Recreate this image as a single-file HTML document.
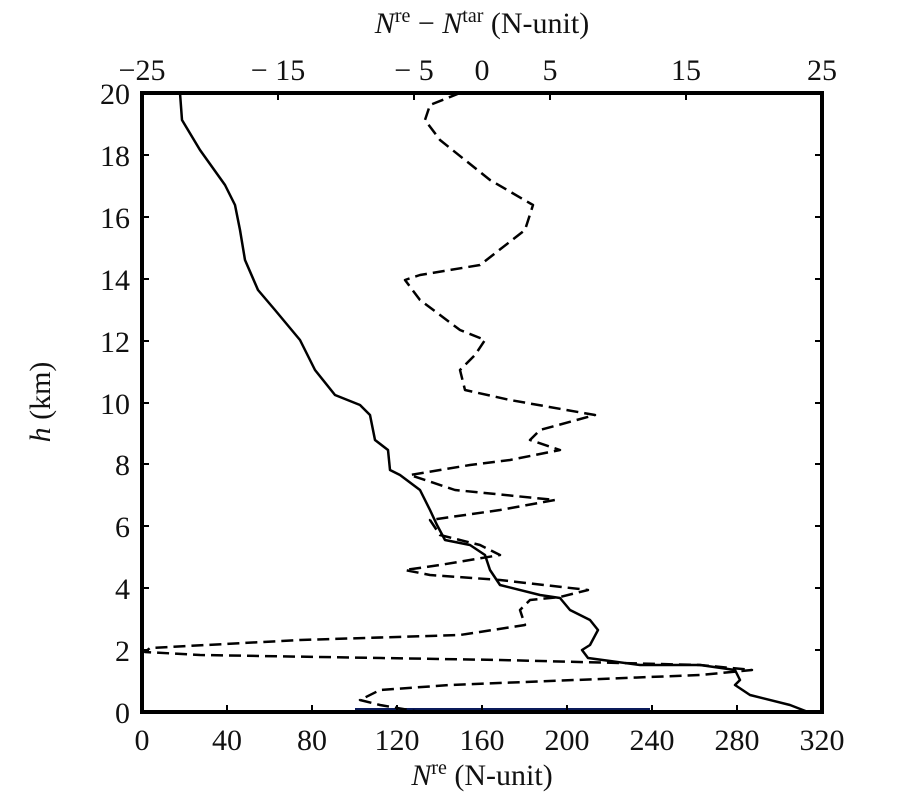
<!DOCTYPE html>
<html><head><style>body{margin:0;background:#fff}svg{display:block}text{font-family:"Liberation Serif",serif;fill:#111}</style></head><body>
<svg width="905" height="803" viewBox="0 0 905 803">
<g font-size="30">
<text x="482" y="33" text-anchor="middle"><tspan font-style="italic">N</tspan><tspan font-size="20" dy="-11">re</tspan><tspan dy="11"> − </tspan><tspan font-style="italic">N</tspan><tspan font-size="20" dy="-11">tar</tspan><tspan dy="11"> (N-unit)</tspan></text>
<text x="142" y="80" text-anchor="middle">−25</text>
<text x="278" y="80" text-anchor="middle">− 15</text>
<text x="414" y="80" text-anchor="middle">− 5</text>
<text x="482" y="80" text-anchor="middle">0</text>
<text x="550" y="80" text-anchor="middle">5</text>
<text x="686" y="80" text-anchor="middle">15</text>
<text x="822" y="80" text-anchor="middle">25</text>
<g text-anchor="end">
<text x="130" y="104">20</text><text x="130" y="166">18</text><text x="130" y="228">16</text><text x="130" y="290">14</text><text x="130" y="352">12</text><text x="130" y="414">10</text><text x="130" y="475">8</text><text x="130" y="537">6</text><text x="130" y="599">4</text><text x="130" y="661">2</text><text x="130" y="723">0</text>
</g>
<g text-anchor="middle">
<text x="142" y="750">0</text><text x="227" y="750">40</text><text x="312" y="750">80</text><text x="397" y="750">120</text><text x="482" y="750">160</text><text x="567" y="750">200</text><text x="652" y="750">240</text><text x="737" y="750">280</text><text x="822" y="750">320</text>
</g>
<text x="482" y="785" text-anchor="middle"><tspan font-style="italic">N</tspan><tspan font-size="20" dy="-11">re</tspan><tspan dy="11"> (N-unit)</tspan></text>
<text transform="translate(50,402) rotate(-90)" text-anchor="middle"><tspan font-style="italic">h</tspan> (km)</text>
</g>
<line x1="355" y1="710" x2="650" y2="710" stroke="#0a1a5a" stroke-width="4"/>
<g stroke="#000" stroke-width="2">
<path d="M227 712v-7M312 712v-7M397 712v-7M482 712v-7M567 712v-7M652 712v-7M737 712v-7M278 93v7M414 93v7M550 93v7M686 93v7M142 650h7M142 588h7M142 526h7M142 464h7M142 403h7M142 341h7M142 279h7M142 217h7M142 155h7M822 650h-7M822 588h-7M822 526h-7M822 464h-7M822 403h-7M822 341h-7M822 279h-7M822 217h-7M822 155h-7"/>
</g>
<path fill="none" stroke="#000" stroke-width="2.5" stroke-linejoin="round" d="M180 93L182 120L200 150L225 185L235 205L240 230L245 260L258 290L275 310L300 340L315 370L335 395L360 405L370 415L375 440L388 450L390 470L400 475L420 490L430 510L437 525L445 540L470 545L485 555L490 570L500 585L540 595L560 598L570 610L590 620L598 630L590 645L582 650L588 658L640 665L700 665L735 670L740 680L735 685L750 695L790 705L808 712"/>
<path fill="none" stroke="#000" stroke-width="2.5" stroke-linejoin="round" stroke-dasharray="12,6" d="M460 93L430 105L425 120L440 140L490 180L533 205L525 230L480 265L420 275L405 280L420 300L460 330L485 340L475 355L460 370L465 390L510 400L595 415L540 430L530 440L560 450L510 460L470 465L410 475L455 490L555 500L500 510L430 520L440 535L480 545L500 555L440 565L405 570L430 575L500 580L588 590L560 597L530 600L520 610L525 625L460 635L300 640L150 648L145 652L200 655L500 660L700 665L752 670L700 675L450 685L380 690L360 700L380 705L420 712"/>
<rect x="142" y="93" width="680" height="619" fill="none" stroke="#000" stroke-width="4"/>
</svg>
</body></html>
